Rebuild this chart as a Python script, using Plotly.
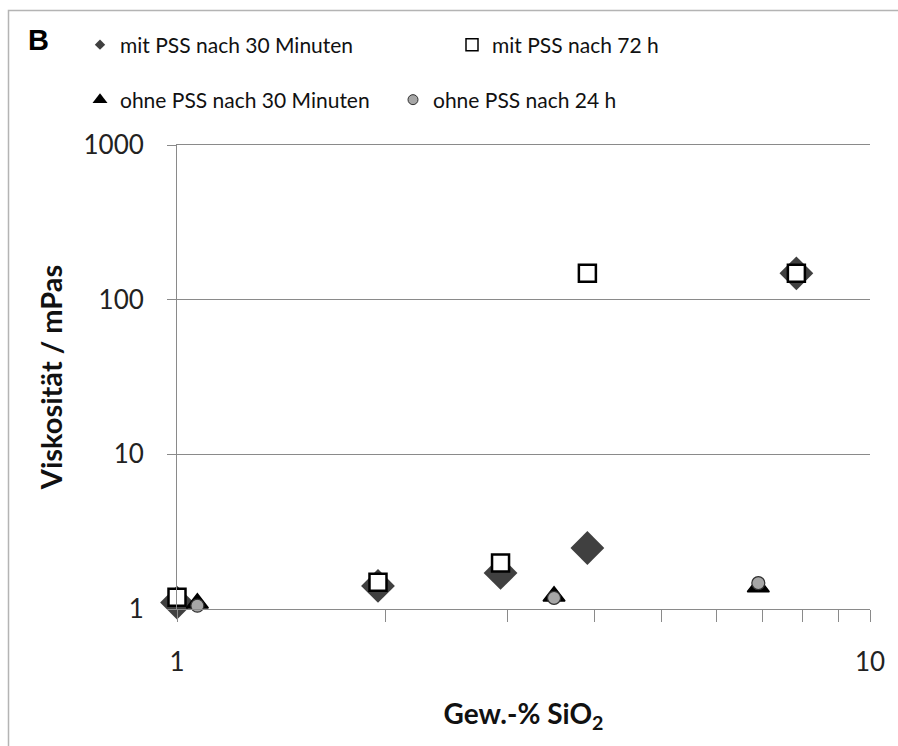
import plotly.graph_objects as go

# ---- data ----
x_mit30 = [1.0, 1.95, 2.93, 3.91, 7.83]
y_mit30 = [1.10, 1.41, 1.71, 2.48, 148]

x_mit72 = [1.0, 1.95, 2.93, 3.91, 7.83]
y_mit72 = [1.19, 1.49, 1.98, 148, 148]

x_ohne30 = [1.07, 3.5, 6.9]
y_ohne30 = [1.09, 1.21, 1.39]

x_ohne24 = [1.07, 3.5, 6.9]
y_ohne24 = [1.05, 1.18, 1.47]

names = ["mit PSS nach 30 Minuten", "mit PSS nach 72 h",
         "ohne PSS nach 30 Minuten", "ohne PSS nach 24 h"]

x_major_ticks = [1, 10]
x_ticktext = ["1", "10"]
x_minor_ticks = [2, 3, 4, 5, 6, 7, 8, 9]
y_ticks = [1, 10, 100, 1000]
y_ticktext = ["1", "10", "100", "1000"]

FONT = "Lato"
GRID = "#8a8a8a"

# marker styles
st_mit30 = dict(symbol="diamond", size=26, color="#404040", line=dict(width=0))
st_mit72 = dict(symbol="square", size=17, color="white", line=dict(color="black", width=2.5))
st_ohne30 = dict(symbol="triangle-up", size=19, color="black", line=dict(color="black", width=1.5))
st_ohne24 = dict(symbol="circle", size=13, color="#a6a6a6", line=dict(color="#303030", width=1.2))

fig = go.Figure()

series = [
    (x_mit30, y_mit30, names[0], st_mit30, dict(symbol="diamond", size=8, color="#404040", line=dict(width=0)), "legend"),
    (x_mit72, y_mit72, names[1], st_mit72, dict(symbol="square", size=12, color="white", line=dict(color="black", width=1.5)), "legend2"),
    (x_ohne30, y_ohne30, names[2], st_ohne30, dict(symbol="triangle-up", size=13, color="black", line=dict(width=0)), "legend3"),
    (x_ohne24, y_ohne24, names[3], st_ohne24, dict(symbol="circle", size=10, color="#a6a6a6", line=dict(color="#303030", width=1)), "legend4"),
]

for i, (xs, ys, nm, st, lst, lg) in enumerate(series):
    fig.add_trace(go.Scatter(x=xs, y=ys, mode="markers", name=nm, marker=st,
                             showlegend=False, legendgroup=f"g{i}", cliponaxis=False))
    # legend entry (small symbol like the original legend)
    fig.add_trace(go.Scatter(x=[None], y=[None], mode="markers", name=nm, marker=lst,
                             showlegend=True, legendgroup=f"g{i}", legend=lg))

L, R, T, B = 177, 28, 145, 137
W, H = 898, 746
pw, ph = W - L - R, H - T - B

def px2paper_x(px):
    return (px - L) / pw

def px2paper_y(py):
    return (H - B - py) / ph

leg_font = dict(family=FONT, size=21, color="#111111")

def leg(px, py):
    return dict(x=px2paper_x(px), y=px2paper_y(py), xanchor="left", yanchor="middle",
                orientation="h", font=leg_font, bgcolor="rgba(0,0,0,0)",
                borderwidth=0, itemsizing="trace", tracegroupgap=0)

fig.update_layout(
    width=W, height=H,
    margin=dict(l=L, r=R, t=T, b=B, pad=0),
    paper_bgcolor="white", plot_bgcolor="white",
    font=dict(family=FONT, color="#222222"),
    legend=leg(80, 45),
    legend2=leg(452, 45),
    legend3=leg(80, 100),
    legend4=leg(393, 100),
    xaxis=dict(
        type="log", range=[0, 1],
        tickmode="array", tickvals=x_major_ticks, ticktext=x_ticktext,
        ticks="outside", ticklen=12, tickcolor=GRID, tickwidth=1,
        minor=dict(tickmode="array", tickvals=x_minor_ticks, ticks="outside",
                   ticklen=12, tickcolor=GRID, tickwidth=1, showgrid=False),
        showgrid=False, zeroline=False,
        showline=True, linecolor=GRID, linewidth=1, mirror=True,
        tickfont=dict(family=FONT, size=26, color="#222222"),
        ticklabelstandoff=18,
        title=dict(text="<b>Gew.-% SiO<sub>2</sub></b>", font=dict(family=FONT, size=28, color="#111111"),
                   standoff=28),
        automargin=False,
    ),
    yaxis=dict(
        type="log", range=[0, 3],
        tickmode="array", tickvals=y_ticks, ticktext=y_ticktext,
        ticks="outside", ticklen=9, tickcolor=GRID, tickwidth=1,
        showgrid=True, gridcolor=GRID, gridwidth=1,
        zeroline=False,
        showline=True, linecolor=GRID, linewidth=1,
        tickfont=dict(family=FONT, size=26, color="#222222"),
        ticklabelstandoff=18,
        title=dict(text="<b>Viskosität / mPas</b>", font=dict(family=FONT, size=29, color="#111111"),
                   standoff=12),
        automargin=False,
    ),
    showlegend=True,
)

# panel letter
fig.add_annotation(text="<b>B</b>", x=px2paper_x(38), y=px2paper_y(40), xref="paper", yref="paper",
                   showarrow=False, font=dict(family="Liberation Sans", size=29, color="black"),
                   xanchor="center", yanchor="middle")

# outer frame (light gray border running off the image at right and bottom)
fig.add_shape(type="rect", xref="paper", yref="paper",
              x0=px2paper_x(8.5), x1=px2paper_x(905), y0=px2paper_y(755), y1=px2paper_y(10.5),
              line=dict(color="#b4b4b4", width=1.5), fillcolor="rgba(0,0,0,0)", layer="below")

fig.write_html("out.html")
